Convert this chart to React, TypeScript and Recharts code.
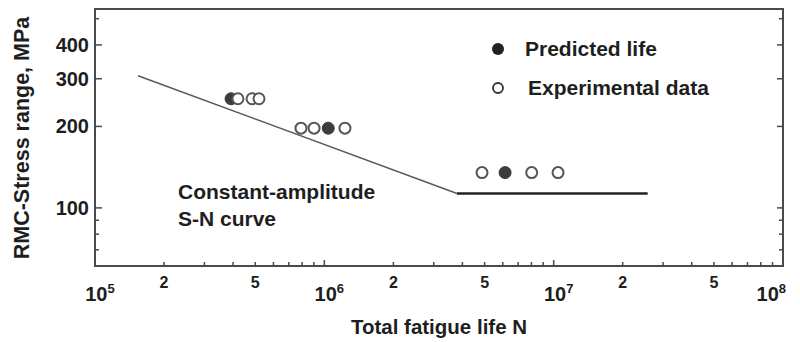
import { ComposedChart, Line, Scatter, XAxis, YAxis, ReferenceArea } from 'recharts'

// S-N curve (constant amplitude), sloped part + fatigue limit
const snSlope = [
    { n: 1.54e5, s: 308 },
    { n: 3.79e6, s: 113 },
]
const snFlat = [
    { n: 3.79e6, s: 113 },
    { n: 2.57e7, s: 113 },
]

const predicted = [
    { n: 3.92e5, s: 253 },
    { n: 1.04e6, s: 197 },
    { n: 6.14e6, s: 135 },
]

const experimental = [
    { n: 4.2e5, s: 253 },
    { n: 4.84e5, s: 253 },
    { n: 5.19e5, s: 253 },
    { n: 7.91e5, s: 197 },
    { n: 9.02e5, s: 197 },
    { n: 1.23e6, s: 197 },
    { n: 4.87e6, s: 135 },
    { n: 8.02e6, s: 135 },
    { n: 1.045e7, s: 135 },
]

const xTicks = [
    1e5, 2e5, 3e5, 4e5, 5e5, 6e5, 7e5, 8e5, 9e5,
    1e6, 2e6, 3e6, 4e6, 5e6, 6e6, 7e6, 8e6, 9e6,
    1e7, 2e7, 3e7, 4e7, 5e7, 6e7, 7e7, 8e7, 9e7,
    1e8,
]
const xLabelled = [2, 5]
const yTicks = [70, 80, 90, 100, 200, 300, 400, 500]
const yLabels = [100, 200, 300, 400]

const FONT = '"Liberation Sans", Arial, sans-serif'
const INK = '#1e1e1e'
const FRAME = '#4a4a4a'

const XTick = ({ x, y, payload }: any) => {
    const v = payload.value
    const lg = Math.log10(v)
    const exp = Math.round(lg)
    const decade = Math.abs(lg - exp) < 1e-6
    const m = Math.round(v / Math.pow(10, Math.floor(lg + 1e-9)))
    const last = v === xTicks[xTicks.length - 1]
    return (
        <g>
            <line x1={x} x2={x} y1={y} y2={y - (decade ? 6 : 4)} stroke={FRAME} strokeWidth={1.5} />
            {decade && (
                <text
                    x={last ? x + 3 : x + 5}
                    y={y + 35}
                    textAnchor={last ? 'end' : 'middle'}
                    fontFamily={FONT}
                    fontWeight="bold"
                    fontSize={20}
                    fill={INK}
                >
                    10<tspan dy={-8} fontSize={13}>{exp}</tspan>
                </text>
            )}
            {!decade && xLabelled.includes(m) && (
                <text x={x} y={y + 22} textAnchor="middle" fontFamily={FONT} fontWeight="bold" fontSize={16} fill={INK}>
                    {m}
                </text>
            )}
        </g>
    )
}

const YTickLeft = ({ x, y, payload }: any) => {
    const v = payload.value
    const major = yLabels.includes(v)
    return (
        <g>
            <line x1={x} x2={x + (major ? 7 : 4)} y1={y} y2={y} stroke={FRAME} strokeWidth={1.5} />
            {major && (
                <text x={x - 6} y={y + 7} textAnchor="end" fontFamily={FONT} fontWeight="bold" fontSize={20} fill={INK}>
                    {v}
                </text>
            )}
        </g>
    )
}

const YTickRight = ({ x, y, payload }: any) => {
    const major = yLabels.includes(payload.value)
    return <line x1={x} x2={x - (major ? 6 : 4)} y1={y} y2={y} stroke={FRAME} strokeWidth={1.5} />
}

const FilledDot = ({ cx, cy }: any) => <circle cx={cx} cy={cy} r={6} fill="#3c3c3c" stroke="#3c3c3c" strokeWidth={1} />
const OpenDot = ({ cx, cy }: any) => <circle cx={cx} cy={cy} r={5.5} fill="#fff" stroke="#555" strokeWidth={2} />

const App = () => {
    return (
        <div style={{ position: 'absolute', left: 0, top: 0, width: 800, height: 342, background: '#fff' }}>
            <ComposedChart width={800} height={342} margin={{ top: 9, right: 7, bottom: 36, left: 35 }}>
                <XAxis
                    dataKey="n"
                    type="number"
                    scale="log"
                    domain={[1e5, 1e8]}
                    allowDataOverflow
                    ticks={xTicks}
                    interval={0}
                    height={40}
                    tickSize={0}
                    tickMargin={0}
                    tickLine={false}
                    axisLine={false}
                    tick={XTick}
                />
                <YAxis
                    yAxisId="l"
                    dataKey="s"
                    type="number"
                    scale="log"
                    domain={[61, 543]}
                    allowDataOverflow
                    ticks={yTicks}
                    interval={0}
                    width={60}
                    tickSize={0}
                    tickMargin={0}
                    tickLine={false}
                    axisLine={false}
                    tick={YTickLeft}
                />
                <YAxis
                    yAxisId="r"
                    orientation="right"
                    type="number"
                    scale="log"
                    domain={[61, 543]}
                    allowDataOverflow
                    ticks={yTicks}
                    interval={0}
                    width={10}
                    tickSize={0}
                    tickMargin={0}
                    tickLine={false}
                    axisLine={false}
                    tick={YTickRight}
                />
                <ReferenceArea yAxisId="l" x1={1e5} x2={1e8} y1={61} y2={543} fill="none" stroke={FRAME} strokeWidth={2} />

                <Line yAxisId="l" data={snSlope} dataKey="s" stroke="#5a5a5a" strokeWidth={1.6} dot={false} isAnimationActive={false} />
                <Line yAxisId="l" data={snFlat} dataKey="s" stroke="#222" strokeWidth={2.6} dot={false} isAnimationActive={false} />
                <Scatter yAxisId="l" data={predicted} dataKey="s" shape={<FilledDot />} isAnimationActive={false} />
                <Scatter yAxisId="l" data={experimental} dataKey="s" shape={<OpenDot />} isAnimationActive={false} />
            </ComposedChart>

            {/* titles, annotation and legend */}
            <svg width={800} height={342} style={{ position: 'absolute', left: 0, top: 0, pointerEvents: 'none' }}>
                <g fontFamily={FONT} fontWeight="bold" fill={INK}>
                    <text x={439} y={334} textAnchor="middle" fontSize={20.5}>Total fatigue life N</text>
                    <text transform="translate(29,138) rotate(-90)" textAnchor="middle" fontSize={21.5}>RMC-Stress range, MPa</text>
                    <text x={178} y={199} fontSize={21}>Constant-amplitude</text>
                    <text x={178} y={226} fontSize={21}>S-N curve</text>

                    <circle cx={498} cy={49} r={6} fill="#222" />
                    <text x={525} y={56} fontSize={21}>Predicted life</text>
                    <circle cx={498} cy={88} r={5} fill="#fff" stroke="#333" strokeWidth={1.8} />
                    <text x={528} y={95} fontSize={21}>Experimental data</text>
                </g>
            </svg>
        </div>
    )
}

export default App
